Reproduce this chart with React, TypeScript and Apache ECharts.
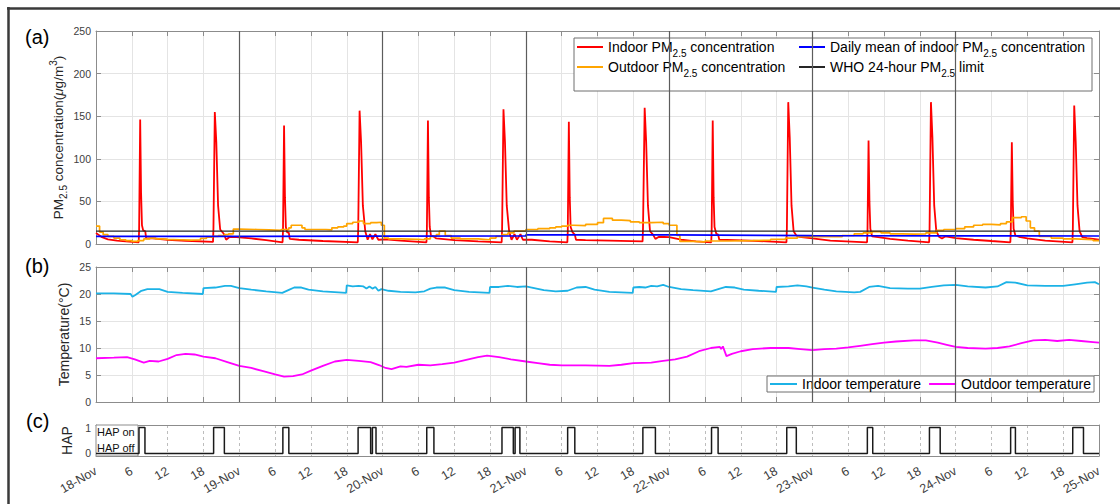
import React, { useEffect, useRef } from 'react';
import * as echarts from 'echarts';

// ---------- data (hours since 18-Nov 00:00, value) ----------
const dayLabels = ['18-Nov', '19-Nov', '20-Nov', '21-Nov', '22-Nov', '23-Nov', '24-Nov', '25-Nov'];
const dayBoundaries = [24, 48, 72, 96, 120, 144];

const indoorPM = [
  [0, 13], [0.4, 11], [1, 8], [2, 5.5], [3.5, 4], [5, 3], [7.15, 2],
  [7.22, 16], [7.4, 146], [7.55, 60], [7.7, 22], [7.9, 16], [8.25, 15], [8.4, 6.5], [9.5, 6.5], [12, 5], [15, 3.8], [19.6, 2.5],
  [19.67, 18], [19.9, 155], [20.15, 120], [20.45, 45], [20.8, 17], [21.4, 12], [21.8, 5], [22.4, 8.5], [23.5, 8], [26, 6.5], [28.5, 4.5], [31.25, 2],
  [31.32, 15], [31.5, 139], [31.65, 55], [31.8, 20], [32, 14], [32.3, 13], [32.45, 6], [34, 5], [38, 3.5], [43.85, 2],
  [43.92, 18], [44.15, 156.5], [44.4, 120], [44.7, 45], [45.1, 15], [45.5, 5], [45.9, 11.5], [46.3, 5.5], [46.8, 11.5], [47.3, 5], [48.5, 5.5], [51, 4], [55.35, 2],
  [55.42, 15], [55.6, 145], [55.75, 55], [55.9, 20], [56.1, 10], [56.5, 9], [57, 6.5], [60, 4.5], [64, 3], [67.95, 2],
  [68.02, 18], [68.25, 158], [68.5, 120], [68.8, 45], [69.2, 15], [69.6, 5], [70.1, 11.5], [70.5, 5], [71.1, 11.5], [71.5, 5], [73, 5], [76, 3], [78.95, 2],
  [79.02, 15], [79.2, 143.5], [79.35, 55], [79.5, 20], [79.8, 14], [80.2, 11], [80.4, 5], [82, 4.5], [86, 4], [91.55, 3],
  [91.62, 18], [91.9, 160], [92.15, 120], [92.45, 45], [92.8, 15], [93.3, 11], [93.7, 6], [94.3, 8.5], [96, 8], [98, 5], [100.5, 3], [103.05, 2],
  [103.12, 15], [103.3, 145], [103.45, 55], [103.6, 20], [103.9, 12], [104.2, 11], [104.4, 5], [107, 4.5], [111, 3.5], [115.65, 2],
  [115.72, 18], [115.95, 166.5], [116.2, 125], [116.5, 45], [116.85, 15], [117.3, 10], [117.8, 8.5], [120, 6.5], [123, 4], [129.15, 2],
  [129.22, 14], [129.4, 121.5], [129.55, 50], [129.7, 18], [130, 9], [131, 8], [133, 6], [136, 4], [139.55, 2],
  [139.62, 18], [139.85, 166.5], [140.1, 125], [140.4, 45], [140.75, 15], [141.2, 8.5], [141.7, 6.5], [142.3, 9], [144, 7], [147, 5], [150, 3.5], [153.15, 2],
  [153.22, 14], [153.4, 119.5], [153.55, 50], [153.7, 18], [154, 10], [154.6, 8.5], [156, 6.5], [159, 4], [163.55, 2],
  [163.62, 18], [163.85, 162.5], [164.1, 120], [164.4, 45], [164.75, 15], [165.2, 8], [166, 7], [167, 6], [168, 5],
];

const outdoorPM = [
  [0, 21], [0.6, 14], [1.2, 11], [2, 9], [3, 7], [4, 5], [5, 4], [6, 3], [7, 4], [8, 6], [9, 7], [10, 6], [11, 5.5], [12, 5],
  [14, 4.5], [16, 5], [17.5, 6.5], [18.5, 8], [19.5, 9], [20.5, 10], [21.5, 11], [22.2, 12], [23, 17.5], [24, 17], [27, 16.5],
  [29, 16], [31, 17], [32.3, 19], [32.7, 22], [34.5, 19], [35, 17], [38.5, 16.5], [39.5, 19], [40.5, 20], [41.5, 21], [42, 24],
  [43, 25.5], [44, 27], [44.8, 24], [46, 25], [47, 25.5], [47.8, 22], [48.3, 7], [49, 6], [51, 5.5], [54, 5], [55, 6], [56, 9],
  [57, 11], [57.5, 15], [58.5, 10], [59.5, 7], [61, 6], [64, 5.5], [65, 5], [66, 7], [67, 9], [68, 11], [69, 13], [70, 15],
  [71, 15.5], [72, 17], [74, 18], [76, 19], [77, 20], [78, 21], [79, 22], [80, 21.5], [82, 23], [84, 25], [85, 30], [86.5, 28],
  [88, 27.5], [89.5, 26], [91, 25], [93, 25.5], [95, 24], [96, 22], [97.3, 10], [97.8, 3], [100, 2.5], [102, 3.5], [106, 4],
  [110, 4.5], [113, 5.5], [115.5, 7], [117.5, 8.5], [120, 9], [123, 8.5], [125, 10], [127, 12], [128.5, 13], [130, 14.5],
  [131.5, 13], [133, 12], [135, 11.5], [137, 12], [139, 13], [140.8, 16], [142, 17], [144, 18], [145.5, 20], [147, 22],
  [148.5, 23], [150, 22.5], [151.5, 24], [152.5, 26], [153.5, 31], [155, 32], [155.8, 27], [156.5, 19], [157.2, 15], [158, 9],
  [160, 7], [162, 6], [164, 5.5], [166, 5], [167, 4], [168, 4],
];

const dailyMeanPM = [[0, 9.0], [24, 9.2], [48, 9.4], [72, 10.6], [96, 9.8], [120, 9.6], [144, 9.4], [168, 9.4]];
const whoLimit = [[0, 15], [168, 15]];

const indoorTemp = [
  [0, 20.1], [3, 20.1], [5.8, 20.0], [6.1, 19.5], [6.6, 19.8], [7.6, 20.6], [8.6, 20.9], [10.6, 20.9], [12, 20.4], [14.5, 20.2],
  [17.9, 20.0], [18, 21.1], [20, 21.2], [21.6, 21.5], [22.6, 21.5], [24, 21.1], [26, 20.8], [28.5, 20.5], [31.2, 20.2],
  [32.4, 20.8], [33.2, 21.2], [34.4, 21.2], [35.6, 20.8], [38, 20.5], [41.9, 20.2], [42, 21.6], [43, 21.4], [44, 21.5],
  [44.8, 21.4], [45.3, 21.0], [45.8, 21.4], [46.3, 21.0], [46.8, 21.3], [47.3, 20.6], [47.8, 20.9], [49, 20.6], [51, 20.4],
  [53.5, 20.3], [55, 20.5], [56, 21.0], [57, 21.2], [58.5, 21.2], [60, 20.7], [62.5, 20.4], [65.9, 20.2], [66, 21.3],
  [67.5, 21.3], [69, 21.5], [70.5, 21.3], [72, 21.4], [73, 21.2], [75, 20.7], [77, 20.5], [79, 20.6], [80.5, 21.2], [82, 21.3],
  [83.5, 20.8], [86, 20.4], [89.9, 20.2], [90, 21.2], [91, 21.3], [92, 21.2], [93, 21.5], [94, 21.4], [95, 21.7], [96, 21.3],
  [98, 20.9], [100, 20.7], [103, 20.5], [104.5, 21.0], [105.5, 21.3], [107, 21.2], [108.5, 20.8], [111, 20.6], [113.9, 20.4],
  [114, 21.3], [116, 21.4], [117.5, 21.6], [119, 21.4], [120, 21.2], [122, 20.8], [124, 20.5], [127, 20.3], [128, 20.4],
  [129.5, 21.3], [131, 21.5], [133, 21.1], [136, 21.0], [138, 21.0], [140, 21.3], [142, 21.6], [144, 21.7], [146, 21.4],
  [149, 21.2], [151, 21.4], [152.5, 22.2], [154, 22.1], [156, 21.6], [159, 21.5], [162, 21.5], [164, 21.8], [166, 22.1],
  [167.3, 22.2], [168, 21.8],
];

const outdoorTemp = [
  [0, 8.1], [3, 8.2], [5.2, 8.3], [6.5, 7.9], [8, 7.3], [9, 7.6], [10.5, 7.5], [12, 8.0], [13.5, 8.7], [15, 8.9], [16.5, 8.8],
  [18, 8.4], [20, 8.1], [22, 7.4], [24, 6.7], [26, 6.3], [28, 5.7], [30, 5.1], [31.5, 4.7], [33, 4.8], [34.5, 5.1], [36, 5.8],
  [38, 6.7], [40, 7.5], [42, 7.8], [44, 7.6], [46, 7.4], [47.5, 6.8], [48.5, 6.3], [49.5, 6.1], [51, 6.6], [52, 6.5], [54, 6.9],
  [56, 6.8], [58, 7.0], [60, 7.3], [62, 7.8], [64, 8.3], [65.5, 8.6], [67.5, 8.3], [69.5, 7.9], [72, 7.5], [74, 7.2], [76, 6.9],
  [78, 6.8], [82, 6.8], [86, 6.7], [88, 6.9], [90, 7.2], [93, 7.3], [95, 7.6], [97, 7.9], [99, 8.4], [101, 9.4], [103, 10.0],
  [104.5, 10.2], [104.7, 9.8], [105, 10.3], [105.6, 8.5], [106.5, 8.9], [108, 9.4], [110, 9.8], [113, 10.0], [116, 10.0],
  [118, 9.8], [120, 9.6], [122, 9.8], [124, 9.9], [126, 10.1], [128, 10.4], [130, 10.7], [132, 11.0], [134, 11.2], [137, 11.4],
  [139, 11.4], [141, 11.0], [142.5, 10.6], [144, 10.2], [146, 10.0], [149, 9.9], [151, 10.0], [153, 10.3], [155, 10.9],
  [157, 11.4], [159, 11.5], [161, 11.3], [163, 11.5], [165, 11.3], [167, 11.1], [168, 11.0],
];

const hapState = [
  [0, 0], [7.2, 1], [8.2, 0], [19.7, 1], [21.5, 0], [31.3, 1], [32.3, 0], [43.9, 1], [46.0, 0], [46.3, 1], [46.9, 0],
  [55.4, 1], [56.6, 0], [68.0, 1], [69.9, 0], [70.2, 1], [71.0, 0], [79.0, 1], [80.2, 0], [91.6, 1], [93.7, 0],
  [103.1, 1], [104.2, 0], [115.7, 1], [117.3, 0], [129.2, 1], [130.1, 0], [139.6, 1], [141.4, 0], [153.2, 1], [154.0, 0],
  [163.6, 1], [165.4, 0], [168, 0],
];

// ---------- styling ----------
const FONT = '"Liberation Sans", Arial, Helvetica, sans-serif';
const FRAME = '#8c8c8c';
const GRIDC = '#e4e4e4';
const LABEL = '#404040';

const N_IN = 'Indoor PM2.5 concentration';
const N_OUT = 'Outdoor PM2.5 concentration';
const N_MEAN = 'Daily mean of indoor PM2.5 concentration';
const N_WHO = 'WHO 24-hour PM2.5 limit';
const N_TIN = 'Indoor temperature';
const N_TOUT = 'Outdoor temperature';

const richName = (n: string) =>
  n.split('PM2.5').map((p) => (p ? `{t|${p}}` : '')).join('{t|PM}{s|2.5}');

const legendRich = {
  t: { fontSize: 14, fontFamily: FONT, color: '#000', lineHeight: 22 },
  s: { fontSize: 10, fontFamily: FONT, color: '#000', lineHeight: 8, verticalAlign: 'bottom' },
};

function xPair(gridIndex: number, labels: boolean, dashed: boolean) {
  return [
    {
      type: 'value', gridIndex, min: 0, max: 168, interval: 6, position: 'bottom',
      axisLine: { show: true, onZero: false, lineStyle: { color: FRAME, width: 1 } },
      axisTick: { show: !dashed, inside: true, length: 5, lineStyle: { color: FRAME } },
      axisLabel: labels
        ? {
            show: true, rotate: 30, fontSize: 12.5, fontFamily: FONT, color: LABEL, margin: 14,
            showMinLabel: true, showMaxLabel: true,
            formatter: (v: number) => (v % 24 === 0 ? dayLabels[v / 24] : String(v % 24)),
          }
        : { show: false },
      splitLine: {
        show: true,
        lineStyle: dashed ? { color: '#bdbdbd', type: [3, 3], width: 1 } : { color: GRIDC, width: 1 },
      },
    },
    {
      type: 'value', gridIndex, min: 0, max: 168, interval: 6, position: 'top',
      axisLine: { show: true, onZero: false, lineStyle: { color: FRAME, width: 1 } },
      axisTick: { show: !dashed, inside: true, length: 5, lineStyle: { color: FRAME } },
      axisLabel: { show: false },
      splitLine: { show: false },
    },
  ];
}

function yRight(gridIndex: number, min: number, max: number, interval: number, ticks: boolean) {
  return {
    type: 'value', gridIndex, min, max, interval, position: 'right',
    axisLine: { show: true, onZero: false, lineStyle: { color: FRAME, width: 1 } },
    axisTick: { show: ticks, inside: true, length: 5, lineStyle: { color: FRAME } },
    axisLabel: { show: false },
    splitLine: { show: false },
  };
}

const dayMarkLine = {
  symbol: ['none', 'none'],
  silent: true,
  label: { show: false },
  lineStyle: { color: '#5c5c5c', width: 1.2, type: 'solid' },
  emphasis: { disabled: true },
  data: dayBoundaries.map((h) => ({ xAxis: h })),
};

const lineSeries = (name: string, data: number[][], color: string, width: number, xi: number, extra: any = {}) => ({
  type: 'line', name, data, xAxisIndex: xi, yAxisIndex: xi,
  showSymbol: false, symbol: 'none', color,
  itemStyle: { color },
  lineStyle: { color, width },
  emphasis: { disabled: true },
  ...extra,
});

export default function App() {
  const ref = useRef<HTMLDivElement>(null);

  useEffect(() => {
    document.body.style.margin = '0';
    if (!ref.current) return;
    const chart = echarts.init(ref.current, undefined, { renderer: 'svg' });

    const option: any = {
      animation: false,
      backgroundColor: '#ffffff',
      textStyle: { fontFamily: FONT },
      grid: [
        { left: 96, right: 21, top: 31, height: 213 },
        { left: 96, right: 21, top: 267, height: 135 },
        { left: 96, right: 21, top: 425, height: 31 },
      ],
      xAxis: [...xPair(0, false, false), ...xPair(1, false, false), ...xPair(2, true, true)],
      yAxis: [
        {
          type: 'value', gridIndex: 0, min: 0, max: 250, interval: 50, position: 'left',
          name: '{t|PM}{s|2.5}{t| concentration(}{g|μ}{t|g/m}{p|3}{t|)}',
          nameLocation: 'middle', nameGap: 28, nameMoveOverlap: false,
          nameTextStyle: {
            color: '#262626',
            rich: {
              t: { fontSize: 13.5, fontFamily: FONT, color: '#262626', lineHeight: 20 },
              g: { fontSize: 13.5, fontFamily: FONT, color: '#262626', lineHeight: 20, fontStyle: 'italic' },
              s: { fontSize: 10, fontFamily: FONT, color: '#262626', lineHeight: 9, verticalAlign: 'bottom' },
              p: { fontSize: 10, fontFamily: FONT, color: '#262626', lineHeight: 9, verticalAlign: 'top' },
            },
          },
          axisLine: { show: true, onZero: false, lineStyle: { color: FRAME, width: 1 } },
          axisTick: { show: true, inside: true, length: 5, lineStyle: { color: FRAME } },
          axisLabel: { fontSize: 10.5, fontFamily: FONT, color: LABEL, margin: 5 },
          splitLine: { show: true, lineStyle: { color: GRIDC, width: 1 } },
        },
        yRight(0, 0, 250, 50, true),
        {
          type: 'value', gridIndex: 1, min: 0, max: 25, interval: 5, position: 'left',
          name: 'Temperature(°C)', nameLocation: 'middle', nameGap: 25, nameMoveOverlap: false,
          nameTextStyle: { fontSize: 14, fontFamily: FONT, color: '#262626' },
          axisLine: { show: true, onZero: false, lineStyle: { color: FRAME, width: 1 } },
          axisTick: { show: true, inside: true, length: 5, lineStyle: { color: FRAME } },
          axisLabel: { fontSize: 10.5, fontFamily: FONT, color: LABEL, margin: 5 },
          splitLine: { show: true, lineStyle: { color: GRIDC, width: 1 } },
        },
        yRight(1, 0, 25, 5, true),
        {
          type: 'value', gridIndex: 2, min: -0.1, max: 1.1, interval: 0.1, position: 'left',
          name: 'HAP', nameLocation: 'middle', nameGap: 22, nameMoveOverlap: false,
          nameTextStyle: { fontSize: 14, fontFamily: FONT, color: '#262626' },
          axisLine: { show: true, onZero: false, lineStyle: { color: FRAME, width: 1 } },
          axisTick: { show: false },
          axisLabel: {
            fontSize: 10.5, fontFamily: FONT, color: LABEL, margin: 5,
            formatter: (v: number) => (Math.abs(v) < 1e-6 ? '0' : Math.abs(v - 1) < 1e-6 ? '1' : ''),
          },
          splitLine: { show: false },
        },
        yRight(2, -0.1, 1.1, 0.1, false),
      ],
      legend: [
        {
          orient: 'vertical', left: 577, top: 40, padding: 0, itemGap: 2,
          icon: 'rect', itemWidth: 26, itemHeight: 2, selectedMode: false,
          data: [N_IN, N_OUT], formatter: richName,
          textStyle: { fontSize: 14, fontFamily: FONT, color: '#000', rich: legendRich },
        },
        {
          orient: 'vertical', left: 799, top: 40, padding: 0, itemGap: 2,
          icon: 'rect', itemWidth: 26, itemHeight: 2, selectedMode: false,
          data: [N_MEAN, N_WHO], formatter: richName,
          textStyle: { fontSize: 14, fontFamily: FONT, color: '#000', rich: legendRich },
        },
        {
          orient: 'horizontal', left: 767, top: 376, padding: [1, 3, 1, 3], itemGap: 8,
          icon: 'rect', itemWidth: 27, itemHeight: 2, selectedMode: false,
          backgroundColor: '#ffffff', borderColor: '#6e6e6e', borderWidth: 1,
          data: [N_TIN, N_TOUT],
          textStyle: { fontSize: 14, fontFamily: FONT, color: '#000' },
        },
      ],
      graphic: [
        { type: 'line', shape: { x1: 7, y1: 8.5, x2: 1120, y2: 8.5 }, style: { stroke: '#3a3a3a', lineWidth: 2.5 }, z: 10 },
        { type: 'line', shape: { x1: 8.5, y1: 7, x2: 8.5, y2: 504 }, style: { stroke: '#3a3a3a', lineWidth: 2.5 }, z: 10 },
        { type: 'text', x: 25, y: 37, z: 10, style: { text: '(a)', fontSize: 20, fontFamily: FONT, fill: '#000', verticalAlign: 'middle' } },
        { type: 'text', x: 25, y: 266, z: 10, style: { text: '(b)', fontSize: 20, fontFamily: FONT, fill: '#000', verticalAlign: 'middle' } },
        { type: 'text', x: 26, y: 421, z: 10, style: { text: '(c)', fontSize: 20, fontFamily: FONT, fill: '#000', verticalAlign: 'middle' } },
        { type: 'rect', z: 3, shape: { x: 574, y: 38, width: 518, height: 53 }, style: { fill: '#ffffff', stroke: '#6e6e6e', lineWidth: 1 } },
        { type: 'rect', z: 1, shape: { x: 96, y: 425, width: 42, height: 31 }, style: { fill: '#ffffff', stroke: '#8c8c8c', lineWidth: 1 } },
        { type: 'text', x: 97, y: 432, z: 5, style: { text: 'HAP on', fontSize: 11, fontFamily: FONT, fill: '#111', verticalAlign: 'middle' } },
        { type: 'text', x: 97, y: 448, z: 5, style: { text: 'HAP off', fontSize: 11, fontFamily: FONT, fill: '#111', verticalAlign: 'middle' } },
      ],
      series: [
        lineSeries(N_IN, indoorPM, '#ff0000', 1.8, 0, { markLine: dayMarkLine }),
        lineSeries(N_OUT, outdoorPM, '#ffa500', 1.7, 0, { step: 'end' }),
        lineSeries(N_MEAN, dailyMeanPM, '#0000ff', 1.7, 0, { step: 'end' }),
        lineSeries(N_WHO, whoLimit, '#262626', 1.3, 0),
        lineSeries(N_TIN, indoorTemp, '#1cb2e6', 1.8, 2, { markLine: dayMarkLine }),
        lineSeries(N_TOUT, outdoorTemp, '#ff00ff', 1.8, 2),
        lineSeries('HAP', hapState, '#1a1a1a', 1.5, 4, { step: 'end' }),
      ],
    };

    chart.setOption(option);
    return () => chart.dispose();
  }, []);

  return <div ref={ref} style={{ width: 1120, height: 504 }} />;
}
